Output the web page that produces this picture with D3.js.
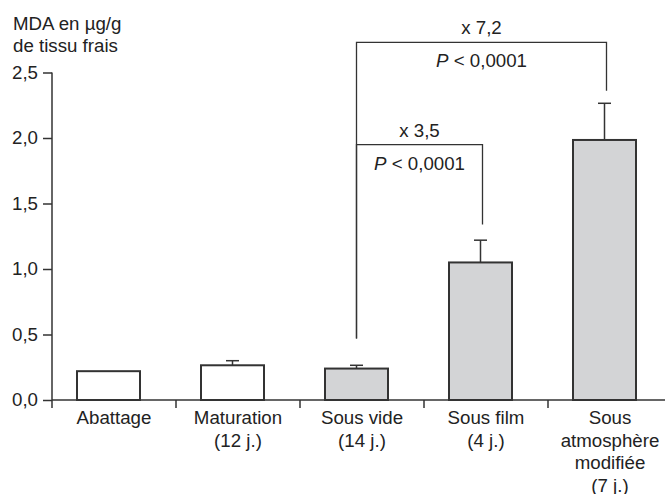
<!DOCTYPE html>
<html><head><meta charset="utf-8">
<script src="https://cdn.jsdelivr.net/npm/d3@7"></script>
<style>body{margin:0;background:#fff}text{font-family:"Liberation Sans",Arial,sans-serif;fill:#222}</style>
</head><body>
<svg id="c" width="665" height="494"></svg>
<script>
const categories = ["Abattage", "Maturation", "Sous vide", "Sous film", "Sous atmosphère modifiée"];
const labelLines = [["Abattage"], ["Maturation", "(12 j.)"], ["Sous vide", "(14 j.)"], ["Sous film", "(4 j.)"], ["Sous", "atmosphère", "modifiée", "(7 j.)"]];
const values = [0.22, 0.265, 0.24, 1.05, 1.985];
const errors = [null, 0.035, 0.025, 0.17, 0.28];
const fills = ["#ffffff", "#ffffff", "#d3d4d6", "#d3d4d6", "#d3d4d6"];
const yTicks = [0, 0.5, 1.0, 1.5, 2.0, 2.5];
const yTitle = ["MDA en µg/g", "de tissu frais"];
const brackets = [
  {from: "Sous vide", to: "Sous atmosphère modifiée", level: 2.73, rightEnd: 2.36, fold: "x 7,2", p: "0,0001"},
  {from: "Sous vide", to: "Sous film", level: 1.95, rightEnd: 1.34, fold: "x 3,5", p: "0,0001"}
];
const leftLegEnd = 0.47;

const FS = "18.7px";
const svg = d3.select("#c");
const x = d3.scaleBand().domain(categories).range([52, 672]).padding(0);
const y = d3.scaleLinear().domain([0, 2.5]).range([400, 72.5]);
const stroke = "#333";
const barOff = 25, barW = 63;
const cx = c => x(c) + barOff + barW / 2;

// Y axis
const yAxis = d3.axisLeft(y).tickValues(yTicks).tickSize(9).tickPadding(5)
  .tickFormat(d => d3.format(".1f")(d).replace(".", ","));
const gy = svg.append("g").attr("transform", "translate(52,0)").call(yAxis);
gy.select(".domain").remove();
gy.selectAll(".tick line").attr("stroke", stroke).attr("stroke-width", 1.5);
gy.selectAll(".tick text").style("font-size", FS).attr("fill", "#222");
svg.append("line").attr("x1", 52).attr("x2", 52).attr("y1", y(2.5)).attr("y2", 408)
  .attr("stroke", stroke).attr("stroke-width", 1.5);

// X axis
svg.append("line").attr("x1", 52).attr("x2", 665).attr("y1", y(0)).attr("y2", y(0))
  .attr("stroke", stroke).attr("stroke-width", 1.5);
categories.slice(1).forEach(c => {
  svg.append("line").attr("x1", x(c)).attr("x2", x(c)).attr("y1", y(0)).attr("y2", 408)
    .attr("stroke", stroke).attr("stroke-width", 1.5);
});
categories.forEach((c, i) => {
  const t = svg.append("text").attr("text-anchor", "middle").style("font-size", FS);
  labelLines[i].forEach((l, k) => {
    t.append("tspan").attr("x", x(c) + x.bandwidth() / 2).attr("y", 424 + k * 22.5).text(l);
  });
});

// Y title
yTitle.forEach((l, k) => svg.append("text").attr("x", 13).attr("y", 30 + k * 22).style("font-size", FS).text(l));

// Error bars
categories.forEach((c, i) => {
  if (errors[i] == null) return;
  const top = values[i] + errors[i];
  svg.append("line").attr("x1", cx(c)).attr("x2", cx(c)).attr("y1", y(values[i])).attr("y2", y(top))
    .attr("stroke", stroke).attr("stroke-width", 1.5);
  svg.append("line").attr("x1", cx(c) - 6.5).attr("x2", cx(c) + 6.5).attr("y1", y(top)).attr("y2", y(top))
    .attr("stroke", stroke).attr("stroke-width", 1.5);
});

// Bars
svg.selectAll("rect.bar").data(categories).enter().append("rect")
  .attr("x", c => x(c) + barOff).attr("width", barW)
  .attr("y", (c, i) => y(values[i])).attr("height", (c, i) => y(0) - y(values[i]))
  .attr("fill", (c, i) => fills[i]).attr("stroke", stroke).attr("stroke-width", 2);

// Brackets
brackets.forEach(b => {
  const x1 = cx(b.from), x2 = cx(b.to) + 2;
  svg.append("path")
    .attr("d", `M${x1},${y(leftLegEnd)}V${y(b.level)}H${x2}V${y(b.rightEnd)}`)
    .attr("fill", "none").attr("stroke", stroke).attr("stroke-width", 1.3);
  const mid = (x1 + x2) / 2;
  svg.append("text").attr("x", mid).attr("y", y(b.level) - 8).attr("text-anchor", "middle")
    .style("font-size", FS).text(b.fold);
  const t = svg.append("text").attr("x", mid).attr("y", y(b.level) + 25).attr("text-anchor", "middle")
    .style("font-size", FS);
  t.append("tspan").style("font-style", "italic").text("P");
  t.append("tspan").text(" < " + b.p);
});
</script>
</body></html>
